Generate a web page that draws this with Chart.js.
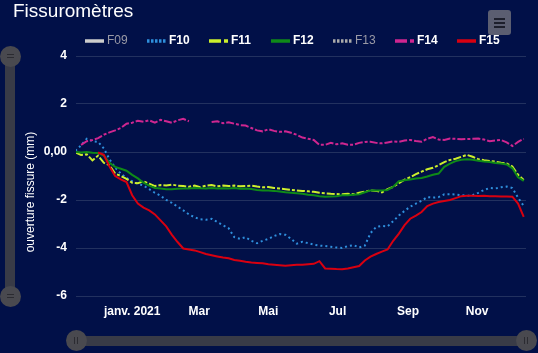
<!DOCTYPE html>
<html>
<head>
<meta charset="utf-8">
<script src="https://cdn.jsdelivr.net/npm/chart.js@4.4.1/dist/chart.umd.min.js"></script>
<style>
  html, body { margin: 0; padding: 0; background: #011048; }
  #wrap { position: relative; width: 538px; height: 353px; overflow: hidden; background: #011048;
          font-family: "Liberation Sans", Arial, sans-serif; color: #fff; }
  #chart { position: absolute; left: 0; top: 0; }
  #title { position: absolute; left: 13px; top: 0; font-size: 19px; line-height: 22px; }
  #ytitle { position: absolute; left: 30px; top: 192px; font-size: 12px; white-space: nowrap;
            transform: translate(-50%, -50%) rotate(-90deg); }
  #legend { position: absolute; left: 85px; top: 33px; height: 15px; display: flex; }
  .item { width: 62px; display: flex; align-items: center; font-size: 12px; font-weight: bold; line-height: 15px; }
  .item canvas { margin-right: 3px; }
  .item.off { color: #9a9aa6; font-weight: normal; }
  #menu { position: absolute; left: 488px; top: 10px; width: 23px; height: 25px; background: #5b5e71; border-radius: 3px; }
  #menu i { position: absolute; left: 6px; width: 11px; height: 2px; background: #1d1f2c; }
  .track { position: absolute; background: #393b47; border-radius: 5px; }
  .knob { position: absolute; width: 21px; height: 21px; border-radius: 50%; background: #49494f; }
  .knob i { position: absolute; background: #2b2b31; }
</style>
</head>
<body>
<div id="wrap">
  <canvas id="chart" width="538" height="353"></canvas>
  <div id="title">Fissuromètres</div>
  <div id="ytitle">ouverture fissure (mm)</div>
  <div id="legend"></div>
  <div id="menu"><i style="top:8px"></i><i style="top:12px"></i><i style="top:16px"></i></div>

  <div class="track" style="left:5px;top:56px;width:10px;height:240px"></div>
  <div class="knob" style="left:0;top:46px"><i style="left:7px;top:8px;width:7px;height:1px"></i><i style="left:7px;top:11px;width:7px;height:1px"></i></div>
  <div class="knob" style="left:0;top:286px"><i style="left:7px;top:8px;width:7px;height:1px"></i><i style="left:7px;top:11px;width:7px;height:1px"></i></div>

  <div class="track" style="left:77px;top:336px;width:449px;height:10px"></div>
  <div class="knob" style="left:66px;top:330px"><i style="left:8px;top:7px;width:1px;height:7px"></i><i style="left:11px;top:7px;width:1px;height:7px"></i></div>
  <div class="knob" style="left:516px;top:330px"><i style="left:8px;top:7px;width:1px;height:7px"></i><i style="left:11px;top:7px;width:1px;height:7px"></i></div>
</div>
<script>
// days counted from 1 Jan 2021
const days = [
  -50, -45, -40, -35, -30, -25, -20, -15, -10, -5,
  0, 5, 10, 15, 20, 25, 30, 35, 40, 45,
  50, 55, 60, 65, 70, 75, 80, 85, 90, 95,
  100, 105, 110, 115, 120, 125, 130, 135, 140, 145,
  150, 155, 160, 165, 170, 175, 180, 185, 190, 195,
  200, 205, 210, 215, 220, 225, 230, 235, 240, 245,
  250, 255, 260, 265, 270, 275, 280, 285, 290, 295,
  300, 305, 310, 315, 320, 325, 330, 335, 340, 345
];

const xTickDays = [0, 59, 120, 181, 243, 304];
const xTickLabels = ['janv. 2021', 'Mar', 'Mai', 'Jul', 'Sep', 'Nov'];
const yTicks = [-6, -4, -2, 0, 2, 4];
const yTickLabels = ['-6', '-4', '-2', '0,00', '2', '4'];

const f10 = [
  0.05, 0.28, 0.55, 0.45, 0.42, 0.15, -0.3, -0.65, -0.9, -1.08,
  -1.22, -1.32, -1.4, -1.55, -1.7, -1.82, -2.0, -2.12, -2.28, -2.43,
  -2.6, -2.72, -2.8, -2.82, -2.78, -2.92, -3.05, -3.18, -3.55, -3.62,
  -3.55, -3.7, -3.8, -3.7, -3.62, -3.5, -3.42, -3.45, -3.62, -3.82,
  -3.74, -3.8, -3.86, -3.9, -3.92, -3.95, -3.98, -4.0, -3.92, -3.88,
  -3.98, -3.9, -3.38, -3.12, -3.08, -3.1, -2.88, -2.65, -2.45, -2.28,
  -2.15, -2.03, -1.88, -1.9, -1.88, -1.76, -1.76, -1.77, -1.8, -1.83,
  -1.8, -1.7, -1.58, -1.5, -1.52, -1.47, -1.44, -1.5, -1.9, -2.25
];
const f11 = [
  -0.02, -0.12, -0.1, -0.35, -0.15, -0.45, -0.55, -0.9, -1.0, -1.12,
  -1.28, -1.3, -1.22, -1.32, -1.42, -1.38, -1.4, -1.36, -1.4, -1.42,
  -1.45, -1.4, -1.47, -1.4, -1.38, -1.43, -1.4, -1.42, -1.4, -1.43,
  -1.42, -1.4, -1.44, -1.47, -1.46, -1.5, -1.52, -1.55, -1.58, -1.6,
  -1.62, -1.64, -1.66, -1.7, -1.72, -1.74, -1.75, -1.76, -1.74, -1.76,
  -1.7, -1.65, -1.6, -1.62, -1.68, -1.55, -1.45, -1.3, -1.15, -1.05,
  -0.92, -0.82, -0.72, -0.66, -0.55, -0.42, -0.33, -0.28, -0.2, -0.12,
  -0.2, -0.3, -0.34, -0.37, -0.4, -0.45, -0.48, -0.6, -0.95, -1.17
];
const f12 = [
  0.0, -0.02, 0.0, -0.03, -0.04, -0.15, -0.45, -0.62, -0.7, -0.78,
  -0.95, -1.1, -1.28, -1.4, -1.5, -1.52, -1.55, -1.55, -1.53, -1.52,
  -1.52, -1.5, -1.51, -1.52, -1.5, -1.52, -1.51, -1.52, -1.5, -1.53,
  -1.52, -1.54, -1.58, -1.6, -1.6, -1.62, -1.65, -1.68, -1.7, -1.72,
  -1.74, -1.78, -1.8, -1.84, -1.86, -1.85, -1.84, -1.8, -1.8, -1.78,
  -1.76, -1.68, -1.6, -1.6, -1.6, -1.58, -1.45, -1.22, -1.18, -1.15,
  -1.1, -1.08, -1.02, -0.95, -0.9, -0.62, -0.48, -0.38, -0.32, -0.3,
  -0.32, -0.36, -0.4, -0.42, -0.46, -0.48, -0.52, -0.68, -1.05, -1.2
];
const f14 = [
  null, 0.3, 0.45, 0.5, 0.58, 0.72, 0.82, 0.9, 1.0, 1.18,
  1.22, 1.3, 1.26, 1.32, 1.22, 1.34, 1.28, 1.22, 1.32, 1.38,
  1.28, null, null, null, 1.25, 1.28, 1.2, 1.24, 1.18, 1.12,
  1.1, 1.0, 0.9, 0.86, 0.95, 0.88, 0.84, 0.86, 0.8, 0.72,
  0.6, 0.55, 0.5, 0.3, 0.3, 0.38, 0.32, 0.36, 0.3, 0.3,
  0.38, 0.42, 0.43, 0.38, 0.36, 0.4, 0.44, 0.42, 0.48, 0.5,
  0.46, 0.43, 0.55, 0.62, 0.52, 0.5, 0.56, 0.55, 0.53, 0.54,
  0.55, 0.56, 0.52, 0.45, 0.48, 0.5, 0.4, 0.25, 0.42, 0.55
];
const f15 = [
  null, null, null, null, -0.02, -0.12, -0.6, -1.0, -1.14, -1.25,
  -1.8, -2.15, -2.32, -2.43, -2.6, -2.85, -3.1, -3.45, -3.75, -4.02,
  -4.06, -4.1, -4.17, -4.25, -4.3, -4.35, -4.4, -4.43, -4.5, -4.53,
  -4.57, -4.6, -4.62, -4.64, -4.68, -4.7, -4.72, -4.74, -4.72, -4.7,
  -4.7, -4.68, -4.66, -4.55, -4.85, -4.86, -4.88, -4.89, -4.85, -4.8,
  -4.75, -4.52, -4.36, -4.25, -4.15, -4.06, -3.7, -3.4, -3.05, -2.78,
  -2.65, -2.5, -2.25, -2.15, -2.08, -2.04, -2.0, -1.92, -1.84, -1.82,
  -1.82, -1.83, -1.82, -1.84, -1.84, -1.85, -1.85, -1.86, -2.15, -2.7
];

const names = ['F09', 'F10', 'F11', 'F12', 'F13', 'F14', 'F15'];
const values = [[], f10, f11, f12, [], f14, f15];
const hiddenSeries = [true, false, false, false, true, false, false];

const colors = ['#cccccc', '#2f8fdc', '#cdef2c', '#0f8a18', '#aaaaaa', '#cf2690', '#d80010'];
const dashes = [[], [2, 3], [8, 2, 3, 2], [], [2, 2], [8, 2, 3, 2], []];
const legendDashes = [[], [2.5, 1.5], [12, 3, 4, 3], [], [2.5, 1.5], [12, 3, 4, 3], []];

Chart.defaults.font.family = '"Liberation Sans", Arial, sans-serif';

const datasets = names.map((n, i) => ({
    label: n,
    data: values[i].map((v, k) => ({ x: days[k], y: v })),
    hidden: hiddenSeries[i],
    borderColor: colors[i],
    borderDash: dashes[i],
    borderWidth: 2,
    pointRadius: 0,
    tension: 0,
    spanGaps: false,
    order: names.length - i
}));

new Chart(document.getElementById('chart'), {
    type: 'line',
    data: { datasets },
    options: {
        responsive: false,
        animation: false,
        layout: { padding: { top: 56, right: 12, bottom: 0, left: 0 } },
        plugins: { legend: { display: false }, tooltip: { enabled: false } },
        scales: {
            x: {
                type: 'linear', min: -49.5, max: 347,
                grid: { display: false, drawTicks: false },
                border: { display: false },
                afterBuildTicks: s => { s.ticks = xTickDays.map(v => ({ value: v })); },
                afterFit: s => { s.height = 57; },
                ticks: {
                    autoSkip: false, maxRotation: 0, padding: 8, color: '#ffffff',
                    font: { size: 12, weight: 'bold' },
                    callback: (v, i) => xTickLabels[i]
                }
            },
            y: {
                min: -6, max: 4,
                grid: { color: '#22315f', lineWidth: 1, drawTicks: false },
                border: { display: false },
                afterBuildTicks: s => { s.ticks = yTicks.map(v => ({ value: v })); },
                afterFit: s => { s.width = 76; },
                ticks: {
                    padding: 9, color: '#ffffff',
                    font: { size: 12, weight: 'bold' },
                    callback: v => yTickLabels[yTicks.indexOf(v)]
                }
            }
        }
    }
});

// legend, same look as the original
const legend = document.getElementById('legend');
names.forEach((n, i) => {
    const item = document.createElement('div');
    item.className = 'item' + (hiddenSeries[i] ? ' off' : '');
    const sym = document.createElement('canvas');
    sym.width = 19; sym.height = 6;
    const c = sym.getContext('2d');
    c.strokeStyle = colors[i];
    c.lineWidth = 3.5;
    c.setLineDash(legendDashes[i]);
    c.beginPath(); c.moveTo(0, 3); c.lineTo(19, 3); c.stroke();
    item.appendChild(sym);
    item.appendChild(document.createTextNode(n));
    legend.appendChild(item);
});
</script>
</body>
</html>
